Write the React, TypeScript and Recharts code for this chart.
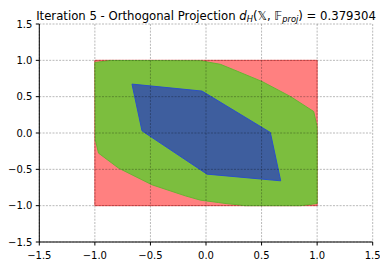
import React from "react";
import { ScatterChart, Scatter, XAxis, YAxis, CartesianGrid } from "recharts";

const axisTicks = [-1.5, -1.0, -0.5, 0.0, 0.5, 1.0, 1.5];

const boxX = [-1, 1, 1, -1];
const boxY = [-1, -1, 1, 1];

const greenX = [-1.0, -0.86, -0.05, 0.13, 0.25, 0.504, 0.759, 0.969, 0.999, 1.0, 1.0, 0.85, 0.35, 0.3, 0.18, 0.113, -0.05, -0.186, -0.486, -0.787, -0.967, -0.996];
const greenY = [0.97, 0.998, 0.995, 0.945, 0.87, 0.709, 0.503, 0.296, 0.09, -0.23, -0.97, -1.0, -1.0, -0.99, -0.971, -0.957, -0.924, -0.865, -0.713, -0.483, -0.277, -0.094];

const blueX = [-0.666, -0.036, 0.579, 0.672, 0.009, -0.576];
const blueY = [0.673, 0.577, 0.007, -0.658, -0.566, 0.03];

const toPts = (xs: number[], ys: number[]) => xs.map((x, i) => ({ x, y: ys[i] }));

const boxData = toPts(boxX, boxY);
const greenData = toPts(greenX, greenY);
const blueData = toPts(blueX, blueY);

const fmt = (v: number) => v.toFixed(1).replace("-", "\u2212");
const font = "'DejaVu Sans', Verdana, sans-serif";
const tickStyle = { fontFamily: font, fontSize: 10, fill: "#000" };
const noShape = () => null;

export default function App() {
  return (
    <div style={{ position: "relative", width: 380, height: 258 }}>
      <ScatterChart
        width={380}
        height={258}
        margin={{ top: 16, right: 15.3, bottom: 0, left: 0 }}
      >
        <XAxis
          xAxisId={0}
          type="number"
          dataKey="x"
          domain={[-1.5, 1.5]}
          ticks={axisTicks}
          allowDataOverflow
          tickFormatter={fmt}
          tick={tickStyle}
          tickSize={3.5}
          tickMargin={6}
          height={24}
          stroke="#000"
          axisLine={{ stroke: "#000", strokeWidth: 1 }}
          tickLine={{ stroke: "#000", strokeWidth: 1 }}
        />
        <XAxis
          xAxisId="top"
          orientation="top"
          type="number"
          domain={[-1.5, 1.5]}
          ticks={axisTicks}
          height={0}
          tick={false}
          tickLine={false}
          axisLine={{ stroke: "#000", strokeWidth: 1 }}
        />
        <YAxis
          yAxisId={0}
          type="number"
          dataKey="y"
          domain={[-1.5, 1.5]}
          ticks={axisTicks}
          allowDataOverflow
          tickFormatter={fmt}
          tick={tickStyle}
          tickSize={3.5}
          tickMargin={3.5}
          width={31.3}
          stroke="#000"
          axisLine={{ stroke: "#000", strokeWidth: 1 }}
          tickLine={{ stroke: "#000", strokeWidth: 1 }}
        />
        <YAxis
          yAxisId="right"
          orientation="right"
          type="number"
          domain={[-1.5, 1.5]}
          ticks={axisTicks}
          width={0}
          tick={false}
          tickLine={false}
          axisLine={{ stroke: "#000", strokeWidth: 1 }}
        />
        <Scatter
          data={boxData}
          dataKey="y"
          fill="#ff8080"
          line={{ fill: "#ff8080", stroke: "#f05050", strokeWidth: 1 }}
          lineType="joint"
          lineJointType="linearClosed"
          shape={noShape}
          isAnimationActive={false}
        />
        <Scatter
          data={greenData}
          dataKey="y"
          fill="#7cbe3e"
          line={{ fill: "#7cbe3e", stroke: "#68b432", strokeWidth: 1 }}
          lineType="joint"
          lineJointType="linearClosed"
          shape={noShape}
          isAnimationActive={false}
        />
        <Scatter
          data={blueData}
          dataKey="y"
          fill="#3e5e9e"
          line={{ fill: "#3e5e9e", stroke: "#2a50c8", strokeWidth: 1 }}
          lineType="joint"
          lineJointType="linearClosed"
          shape={noShape}
          isAnimationActive={false}
        />
        <CartesianGrid
          stroke="#000"
          strokeOpacity={0.28}
          strokeWidth={1}
          strokeDasharray="2 1.3"
          horizontalValues={axisTicks}
          verticalValues={axisTicks}
          {...({ zIndex: 1000 } as any)}
        />
      </ScatterChart>
      <svg
        width={380}
        height={20}
        style={{ position: "absolute", left: 0, top: 0, overflow: "visible" }}
      >
        <text
          x={198}
          y={12}
          textAnchor="middle"
          fontFamily={font}
          fontSize={11.7}
          fill="#000"
        >
          <tspan>Iteration 5 - Orthogonal Projection </tspan>
          <tspan fontStyle="italic">d</tspan>
          <tspan fontStyle="italic" fontSize={8.3} dy={2}>H</tspan>
          <tspan dy={-2}>(</tspan>
          <tspan>{"\u{1D54F}"}</tspan>
          <tspan>, </tspan>
          <tspan>{"\u{1D53D}"}</tspan>
          <tspan fontStyle="italic" fontSize={8.3} dy={2}>proj</tspan>
          <tspan dy={-2}>) = 0.379304</tspan>
        </text>
      </svg>
    </div>
  );
}
